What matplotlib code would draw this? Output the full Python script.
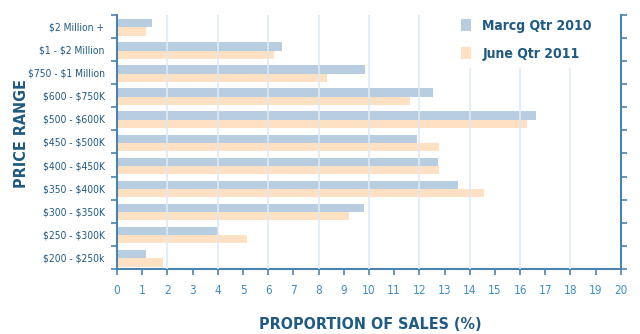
import matplotlib
matplotlib.use("Agg")
import matplotlib.pyplot as plt
import numpy as np

plt.rcParams['font.family'] = ['DejaVu Sans']
plt.rcParams['font.stretch'] = 'condensed'
plt.rcParams['text.parse_math'] = False

# Price ranges, top to bottom as shown in the chart
CATEGORIES = ["$2 Million +", "$1 - $2 Million", "$750 - $1 Million", "$600 - $750K",
              "$500 - $600K", "$450 - $500K", "$400 - $450K", "$350 - $400K",
              "$300 - $350K", "$250 - $300K", "$200 - $250k"]
MARCH_2010 = [1.39, 6.53, 9.84, 12.55, 16.65, 11.89, 12.75, 13.52, 9.81, 4.02, 1.14]
JUNE_2011 = [1.14, 6.23, 8.32, 11.63, 16.28, 12.79, 12.79, 14.58, 9.19, 5.15, 1.84]
SERIES_NAMES = ["Marcg Qtr 2010", "June Qtr 2011"]

BLUE = '#b8cde0'
ORANGE = '#fde1c2'
TEXT = '#1f5a82'
AXIS = '#4a84ad'
TICKTXT = '#3f8ec0'

fig = plt.figure(figsize=(6.4, 3.34), dpi=100)
ax = fig.add_axes([0.183, 0.195, 0.787, 0.76])

n = len(CATEGORIES)
pos = np.arange(n)[::-1]  # first category on top
h = 0.36
ax.barh(pos + h / 2 - 0.04, MARCH_2010, height=h, color=BLUE, label=SERIES_NAMES[0], zorder=2)
ax.barh(pos - h / 2 - 0.04, JUNE_2011, height=h, color=ORANGE, label=SERIES_NAMES[1], zorder=2)

ax.set_xlim(0, 20)
ax.set_ylim(-0.5, n - 0.5)

# vertical gridlines at even values
for v in range(2, 20, 2):
    ax.axvline(v, color='#dfe9f3', lw=1.2, zorder=3)

ax.set_xticks(range(0, 21))
ax.set_xticklabels([str(i) for i in range(0, 21)], color=TICKTXT, fontsize=8.5)
ax.set_yticks(pos)
ax.set_yticklabels(CATEGORIES, color=TEXT, fontsize=7.4)
ax.set_yticks(np.arange(n + 1) - 0.5, minor=True)
ax.tick_params(axis='y', which='major', length=0, pad=9)
ax.tick_params(axis='y', which='minor', length=4, color=AXIS, width=1.2, right=True)
ax.tick_params(axis='x', length=4, color=AXIS, width=1.2, pad=7)

for side in ['left', 'bottom', 'right']:
    ax.spines[side].set_color(AXIS)
    ax.spines[side].set_linewidth(1.5)
ax.spines['top'].set_visible(False)

fig.text(0.033, 0.6, "PRICE RANGE", color=TEXT, fontsize=11.5, fontweight='bold',
         rotation=90, ha='center', va='center')
fig.text(0.578, 0.027, "PROPORTION OF SALES (%)", color=TEXT, fontsize=11.5, fontweight='bold',
         ha='center', va='center')

leg = ax.legend(loc='upper right', bbox_to_anchor=(0.97, 1.04), frameon=True, facecolor='white',
                edgecolor='none', framealpha=1, fontsize=10, handlelength=0.7, handleheight=1.0,
                labelspacing=1.0, borderpad=0.5, handletextpad=0.8)
for t in leg.get_texts():
    t.set_color(TEXT)
    t.set_fontweight('bold')
leg.set_zorder(5)

fig.savefig("out.png", dpi=100)
